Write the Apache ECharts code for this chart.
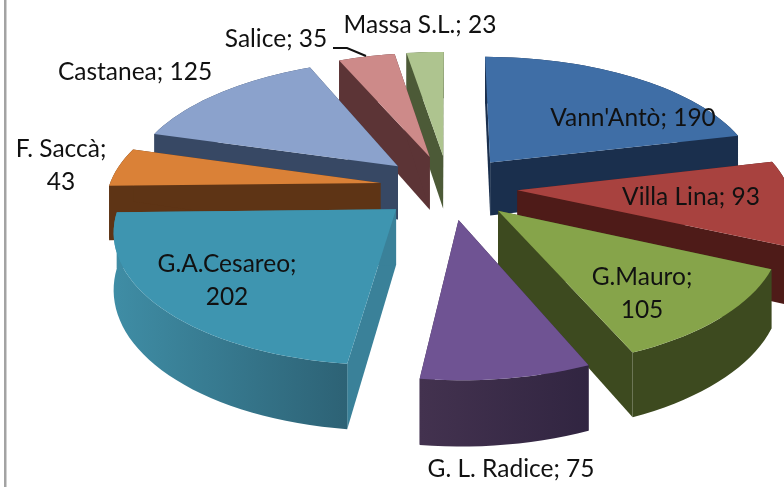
<!DOCTYPE html>
<html>
<head>
<meta charset="utf-8">
<style>
  html, body { margin: 0; padding: 0; background: #fff; }
  #main { width: 784px; height: 487px; }
</style>
<script src="https://cdn.jsdelivr.net/npm/echarts@6/dist/echarts.min.js"></script>
</head>
<body>
<div id="main"></div>
<script>
// data
const names = ["Vann'Antò", 'Villa Lina', 'G.Mauro', 'G. L. Radice', 'G.A.Cesareo', 'F. Saccà', 'Castanea', 'Salice', 'Massa S.L.'];
const values = [190, 93, 105, 75, 202, 43, 125, 35, 23];

// colours, same order as the data
const topColors = ['#3f6ea6', '#a8423f', '#86a44a', '#6f5393', '#3e95b0', '#da8137', '#8ba2cc', '#cd8a89', '#aec48f'];
const cutColors = ['#1a2f4d', '#4e1b18', '#3d4a1f', '#3a2a4c', '#3a8199', '#5e3415', '#374864', '#5c3436', '#4c5a37'];
const rimLeft = ['#1a2f4d', '#4e1b18', '#3d4a1f', '#43324f', '#3f8da5', '#5e3415', '#374864', '#5c3436', '#4c5a37'];
const rimRight = ['#1a2f4d', '#4e1b18', '#3d4a1f', '#312541', '#2d6275', '#5e3415', '#374864', '#5c3436', '#4c5a37'];

// label placement, same order as the data
const labelX = [633, 691, 642, 511, 227, 61, 135, 276, 420];
const labelY = [118, 197, 294, 469, 281, 166, 72, 39, 25];
const labelText = names.map((n, i) => {
  const wrap = n === 'G.Mauro' || n === 'G.A.Cesareo' || n === 'F. Saccà';
  return n + ';' + (wrap ? '\n' : ' ') + values[i];
});

// fake 3d view of the pie
const cx = 448.5, cy = 187, rx = 271.5, ry = 127;
const persp = 0.142, explode = 0.254, depth = 54.5;
const total = values.reduce((a, b) => a + b, 0);

function toRad(v) {
  return echarts.number.linearMap(v, [0, total], [0, Math.PI * 2]);
}

function project(x, y, down) {
  const s = 1 / (1 + persp * y);
  return [cx + x * rx * s, cy - y * ry * s + down * s];
}

let running = 0;
const slices = values.map((v, i) => {
  const a0 = toRad(running);
  running += v;
  const a1 = toRad(running);
  const mid = (a0 + a1) / 2;
  return { index: i, a0, a1, ox: explode * Math.sin(mid), oy: explode * Math.cos(mid) };
});
// back slices first
const drawOrder = slices.slice().sort((a, b) => b.oy - a.oy);

function renderSlice(params) {
  const sl = drawOrder[params.dataIndex];
  const i = sl.index;
  const arc = [];
  const steps = Math.max(2, Math.ceil((sl.a1 - sl.a0) / 0.04));
  for (let k = 0; k <= steps; k++) {
    const a = sl.a0 + (sl.a1 - sl.a0) * k / steps;
    arc.push([sl.ox + Math.sin(a), sl.oy + Math.cos(a)]);
  }
  const apex = [sl.ox, sl.oy];
  const first = arc[0], last = arc[arc.length - 1];
  const p = (pt, d) => project(pt[0], pt[1], d);

  const rimPts = arc.map(a => p(a, 0)).concat(arc.slice().reverse().map(a => p(a, depth)));
  const topPts = [p(apex, 0)].concat(arc.map(a => p(a, 0)));
  const cut = (pt) => [p(apex, 0), p(pt, 0), p(pt, depth), p(apex, depth)];
  return {
    type: 'group',
    children: [
      { type: 'polygon', shape: { points: cut(first) }, style: { fill: cutColors[i] } },
      { type: 'polygon', shape: { points: cut(last) }, style: { fill: cutColors[i] } },
      {
        type: 'polygon',
        shape: { points: rimPts },
        style: {
          fill: new echarts.graphic.LinearGradient(0, 0, 1, 0, [
            { offset: 0, color: rimLeft[i] },
            { offset: 1, color: rimRight[i] }
          ])
        }
      },
      { type: 'polygon', shape: { points: topPts }, style: { fill: topColors[i] } }
    ]
  };
}

function renderLabel(params) {
  const i = params.dataIndex;
  return {
    type: 'text',
    style: {
      text: labelText[i],
      x: labelX[i],
      y: labelY[i],
      fill: '#111',
      align: 'center',
      verticalAlign: 'middle',
      lineHeight: 33,
      font: '24.5px Lato'
    }
  };
}

const option = {
  backgroundColor: '#fff',
  animation: false,
  graphic: [
    // left border of the pasted chart
    { type: 'rect', shape: { x: 4, y: 0, width: 2.5, height: 487 }, style: { fill: '#a3a3a3' } },
    // leader line of Salice
    {
      type: 'polyline',
      z: 10,
      shape: { points: [[333, 48], [347, 48], [366, 56]] },
      style: { stroke: '#111', lineWidth: 2, fill: null }
    }
  ],
  series: [
    {
      type: 'custom',
      coordinateSystem: 'none',
      renderItem: renderSlice,
      data: drawOrder.map(s => values[s.index]),
      clip: false,
      silent: true
    },
    {
      type: 'custom',
      coordinateSystem: 'none',
      renderItem: renderLabel,
      data: values,
      z: 5,
      silent: true
    }
  ]
};

const chartDom = document.getElementById('main');
const myChart = echarts.init(chartDom);
myChart.setOption(option);
</script>
</body>
</html>
